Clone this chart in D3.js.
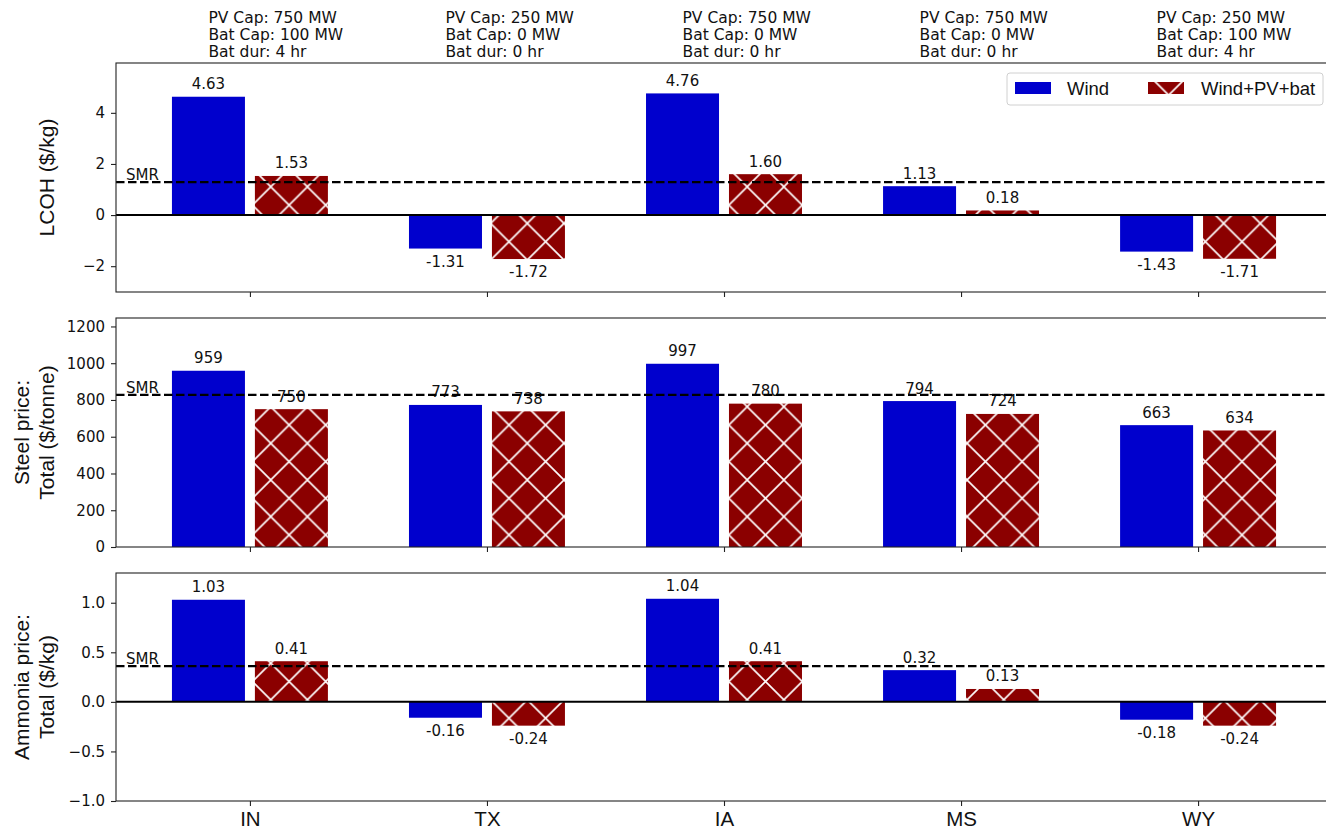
<!DOCTYPE html>
<html>
<head>
<meta charset="utf-8">
<script src="https://cdn.jsdelivr.net/npm/d3@7"></script>
<style>
  html, body { margin: 0; padding: 0; background: #fff; overflow: hidden; }
  svg { display: block; }
</style>
</head>
<body>
<script>
// Sites and scenario settings
const sites = ["IN", "TX", "IA", "MS", "WY"];
const pvCap = [750, 250, 750, 750, 250];
const batCap = [100, 0, 0, 0, 100];
const batDur = [4, 0, 0, 0, 4];

// Levelized cost of hydrogen ($/kg)
const lcohWind = [4.63, -1.31, 4.76, 1.13, -1.43];
const lcohHybrid = [1.53, -1.72, 1.60, 0.18, -1.71];

// Steel price, total ($/tonne)
const steelWind = [959, 773, 997, 794, 663];
const steelHybrid = [750, 738, 780, 724, 634];

// Ammonia price, total ($/kg)
const ammoniaWind = [1.03, -0.16, 1.04, 0.32, -0.18];
const ammoniaHybrid = [0.41, -0.24, 0.41, 0.13, -0.24];

// Steam methane reforming reference levels per panel
const smrLevels = [1.29, 828, 0.36];

// Axis ticks per panel
const lcohTicks = [-2, 0, 2, 4];
const steelTicks = [0, 200, 400, 600, 800, 1000, 1200];
const ammoniaTicks = [-1.0, -0.5, 0.0, 0.5, 1.0];

const seriesNames = ["Wind", "Wind+PV+bat"];
const windColor = "#0000cd";
const hybridColor = "#8b0000";

const W = 1326, H = 831;
const plotLeft = 116, plotRight = 1332;

const svg = d3.select("body").append("svg")
  .attr("width", W).attr("height", H)
  .attr("viewBox", `0 0 ${W} ${H}`);

// Cross-hatch fill for the hybrid bars
const hatchSize = 36.65;
const defs = svg.append("defs");
const pat = defs.append("pattern")
  .attr("id", "xhatch")
  .attr("patternUnits", "userSpaceOnUse")
  .attr("x", 14.2).attr("y", 3.5)
  .attr("width", hatchSize).attr("height", hatchSize);
pat.append("rect").attr("width", hatchSize).attr("height", hatchSize).attr("fill", hybridColor);
pat.append("path")
  .attr("d", `M0,0L${hatchSize},${hatchSize}M${hatchSize},0L0,${hatchSize}`)
  .attr("stroke", "#ffffff").attr("stroke-width", 1.6).attr("fill", "none");

const x = d3.scalePoint().domain(sites).range([plotLeft, plotRight]).padding(0.565);
const step = x.step();
const barW = step * 0.308;
const barOff = step * 0.175;

const fmt2 = v => (v < 0 ? "-" : "") + Math.abs(v).toFixed(2);
const fmt0 = v => String(Math.round(v));

const panels = [
  { top: 63, bottom: 292, domain: [-3.01, 5.95], ticks: lcohTicks, tickFmt: d3.format("d"),
    wind: lcohWind, hybrid: lcohHybrid, smr: smrLevels[0], valFmt: fmt2,
    ylabel: ["LCOH ($/kg)"], zeroLine: true },
  { top: 318, bottom: 547, domain: [0, 1246], ticks: steelTicks, tickFmt: d3.format("d"),
    wind: steelWind, hybrid: steelHybrid, smr: smrLevels[1], valFmt: fmt0,
    ylabel: ["Steel price:", "Total ($/tonne)"], zeroLine: false },
  { top: 573, bottom: 801, domain: [-1.0, 1.30], ticks: ammoniaTicks, tickFmt: d3.format(".1f"),
    wind: ammoniaWind, hybrid: ammoniaHybrid, smr: smrLevels[2], valFmt: fmt2,
    ylabel: ["Ammonia price:", "Total ($/kg)"], zeroLine: true }
];

panels.forEach((p, pi) => {
  const y = d3.scaleLinear().domain(p.domain).range([p.bottom, p.top]);
  const g = svg.append("g");

  // Bars
  const series = [
    { vals: p.wind, off: -barOff, fill: windColor },
    { vals: p.hybrid, off: barOff, fill: "url(#xhatch)" }
  ];
  series.forEach(s => {
    g.selectAll(null).data(s.vals).enter().append("rect")
      .attr("x", (d, i) => x(sites[i]) + s.off - barW / 2)
      .attr("width", barW)
      .attr("y", d => y(Math.max(0, d)))
      .attr("height", d => Math.abs(y(d) - y(0)))
      .attr("fill", s.fill);
    g.selectAll(null).data(s.vals).enter().append("text")
      .attr("x", (d, i) => x(sites[i]) + s.off)
      .attr("y", d => d >= 0 ? y(d) - 7.5 : y(d) + 18)
      .attr("text-anchor", "middle")
      .attr("font-family", "DejaVu Sans")
      .attr("font-size", 15)
      .attr("fill", "#111")
      .text(d => p.valFmt(d));
  });

  // Zero reference
  if (p.zeroLine) {
    g.append("line")
      .attr("x1", plotLeft).attr("x2", plotRight)
      .attr("y1", y(0)).attr("y2", y(0))
      .attr("stroke", "#000").attr("stroke-width", 2);
  }

  // SMR benchmark
  g.append("line")
    .attr("x1", plotLeft).attr("x2", plotRight)
    .attr("y1", y(p.smr)).attr("y2", y(p.smr))
    .attr("stroke", "#000").attr("stroke-width", 2.2)
    .attr("stroke-dasharray", "8.5,3.5");
  g.append("text")
    .attr("x", 126).attr("y", y(p.smr) - 2)
    .attr("font-family", "DejaVu Sans").attr("font-size", 15)
    .attr("fill", "#111").text("SMR");

  // Y axis
  const yAxis = g.append("g")
    .attr("transform", `translate(${plotLeft},0)`)
    .call(d3.axisLeft(y).tickValues(p.ticks).tickFormat(p.tickFmt).tickSize(5).tickPadding(6));
  yAxis.select(".domain").remove();
  yAxis.selectAll("line").attr("stroke", "#222").attr("stroke-width", 1.1);
  yAxis.selectAll("text").attr("font-family", "DejaVu Sans").attr("font-size", 15).attr("fill", "#111");

  // X axis (labels only on the bottom panel)
  const xAxis = g.append("g")
    .attr("transform", `translate(0,${p.bottom})`)
    .call(d3.axisBottom(x).tickSize(5).tickPadding(7));
  xAxis.select(".domain").remove();
  xAxis.selectAll("line").attr("stroke", "#222").attr("stroke-width", 1.1);
  if (pi === panels.length - 1) {
    xAxis.selectAll("text")
      .attr("y", 25).attr("dy", null)
      .attr("font-family", "Liberation Sans").attr("font-size", 20.5).attr("fill", "#111");
  } else {
    xAxis.selectAll("text").remove();
  }

  // Frame
  g.append("rect")
    .attr("x", plotLeft).attr("y", p.top)
    .attr("width", plotRight - plotLeft).attr("height", p.bottom - p.top)
    .attr("fill", "none").attr("stroke", "#222").attr("stroke-width", 1.1);

  // Y label
  const cy = (p.top + p.bottom) / 2;
  const nl = p.ylabel.length;
  p.ylabel.forEach((line, li) => {
    const bx = 54 - (nl - 1 - li) * 25.5;
    g.append("text")
      .attr("transform", `translate(${bx},${cy}) rotate(-90)`)
      .attr("text-anchor", "middle")
      .attr("font-family", "Liberation Sans").attr("font-size", 21)
      .attr("fill", "#111").text(line);
  });
});

// Scenario annotations above the top panel
const annot = svg.append("g");
sites.forEach((s, i) => {
  const lines = [`PV Cap: ${pvCap[i]} MW`, `Bat Cap: ${batCap[i]} MW`, `Bat dur: ${batDur[i]} hr`];
  lines.forEach((t, li) => {
    annot.append("text")
      .attr("x", x(s) - barOff)
      .attr("y", 22.7 + li * 17.3)
      .attr("font-family", "DejaVu Sans").attr("font-size", 15.5)
      .attr("fill", "#111").text(t);
  });
});

// Legend
const leg = svg.append("g");
leg.append("rect")
  .attr("x", 1007).attr("y", 73).attr("width", 316).attr("height", 32)
  .attr("rx", 3).attr("fill", "#fff").attr("fill-opacity", 0.85)
  .attr("stroke", "#d0d0d0").attr("stroke-width", 1);
const legItems = [
  { name: seriesNames[0], fill: windColor, px: 1015, tx: 1067 },
  { name: seriesNames[1], fill: "url(#xhatch)", px: 1148, tx: 1201 }
];
legItems.forEach(it => {
  leg.append("rect").attr("x", it.px).attr("y", 82).attr("width", 36).attr("height", 12).attr("fill", it.fill);
  leg.append("text").attr("x", it.tx).attr("y", 94.5)
    .attr("font-family", "Liberation Sans").attr("font-size", 18.5)
    .attr("fill", "#111").text(it.name);
});
</script>
</body>
</html>
